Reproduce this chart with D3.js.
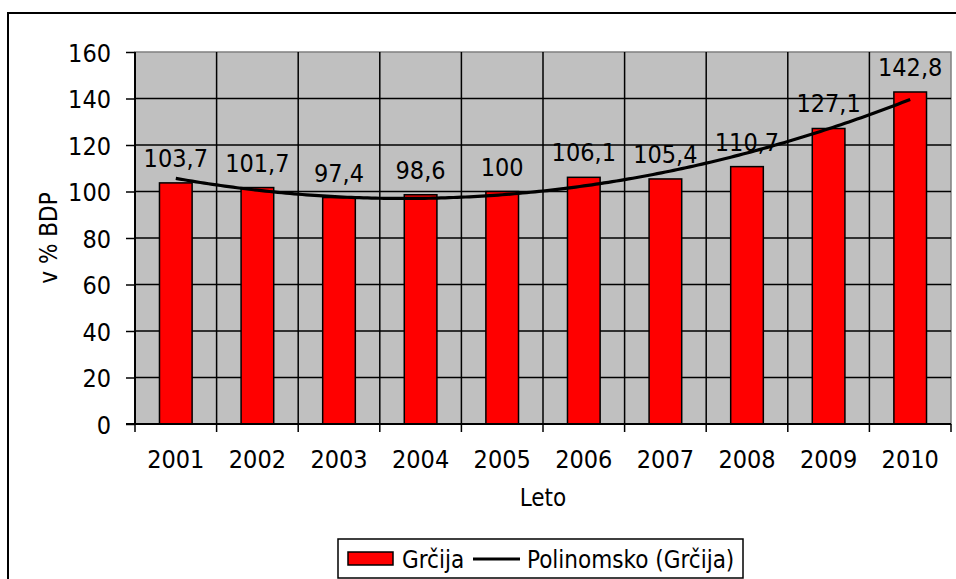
<!DOCTYPE html>
<html>
<head>
<meta charset="utf-8">
<script src="https://cdn.jsdelivr.net/npm/d3@7"></script>
<style>
  html, body { margin: 0; padding: 0; background: #fff; }
  svg { display: block; }
  text { font-family: "DejaVu Sans", Verdana, sans-serif; font-stretch: condensed; fill: #000; }
</style>
</head>
<body>
<svg id="chart" width="956" height="579"></svg>
<script>
// Javni dolg Grčije (v % BDP), 2001–2010
const years = ["2001", "2002", "2003", "2004", "2005", "2006", "2007", "2008", "2009", "2010"];
const debt = [103.7, 101.7, 97.4, 98.6, 100, 106.1, 105.4, 110.7, 127.1, 142.8];
const yTicks = [0, 20, 40, 60, 80, 100, 120, 140, 160];
const seriesName = "Grčija";
const trendName = "Polinomsko (Grčija)";
const xTitle = "Leto";
const yTitle = "v % BDP";

const FS_NUM = 25;   // numbers: ticks and value labels
const FS_TXT = 24;   // titles and legend
const svg = d3.select("#chart");
const plot = { left: 135, top: 52, right: 951, bottom: 424 };

const x = d3.scaleBand().domain(years).range([plot.left, plot.right]).paddingInner(0).paddingOuter(0);
const y = d3.scaleLinear().domain([0, 160]).range([plot.bottom, plot.top]);
const barW = x.bandwidth() * 0.4;

// Chart frame
svg.append("rect")
  .attr("x", 8).attr("y", 13).attr("width", 970).attr("height", 590)
  .attr("fill", "#fff").attr("stroke", "#000").attr("stroke-width", 2);

// Plot background
svg.append("rect")
  .attr("x", plot.left).attr("y", plot.top)
  .attr("width", plot.right - plot.left).attr("height", plot.bottom - plot.top)
  .attr("fill", "#c0c0c0").attr("stroke", "#808080").attr("stroke-width", 1.5);

// Horizontal gridlines
svg.append("g").selectAll("line")
  .data(yTicks.filter(d => d > 0 && d < 160))
  .join("line")
  .attr("x1", plot.left).attr("x2", plot.right)
  .attr("y1", d => y(d)).attr("y2", d => y(d))
  .attr("stroke", "#000").attr("stroke-width", 1.5);

// Vertical gridlines between categories
svg.append("g").selectAll("line")
  .data(years.slice(1))
  .join("line")
  .attr("x1", d => x(d)).attr("x2", d => x(d))
  .attr("y1", plot.top).attr("y2", plot.bottom)
  .attr("stroke", "#000").attr("stroke-width", 1.5);

// Bars
svg.append("g").selectAll("rect")
  .data(years.map((yr, i) => ({ yr, v: debt[i] })))
  .join("rect")
  .attr("x", d => x(d.yr) + (x.bandwidth() - barW) / 2)
  .attr("y", d => y(d.v))
  .attr("width", barW)
  .attr("height", d => y(0) - y(d.v))
  .attr("fill", "#ff0000").attr("stroke", "#000").attr("stroke-width", 1.5);

// Value labels
svg.append("g").selectAll("text")
  .data(years.map((yr, i) => ({ yr, v: debt[i] })))
  .join("text")
  .attr("x", d => x(d.yr) + x.bandwidth() / 2)
  .attr("y", d => y(d.v) - 16)
  .attr("text-anchor", "middle")
  .attr("font-size", FS_NUM)
  .text(d => String(d.v).replace(".", ","));

// Second-order polynomial trend (least squares on the yearly values)
function polyFit(xs, ys, order) {
  const n = order + 1;
  const A = Array.from({ length: n }, () => new Array(n + 1).fill(0));
  for (let r = 0; r < n; r++) {
    for (let c = 0; c < n; c++) A[r][c] = d3.sum(xs, v => Math.pow(v, r + c));
    A[r][n] = d3.sum(xs, (v, i) => Math.pow(v, r) * ys[i]);
  }
  for (let i = 0; i < n; i++) {
    let p = i;
    for (let k = i + 1; k < n; k++) if (Math.abs(A[k][i]) > Math.abs(A[p][i])) p = k;
    [A[i], A[p]] = [A[p], A[i]];
    for (let k = i + 1; k < n; k++) {
      const f = A[k][i] / A[i][i];
      for (let c = i; c <= n; c++) A[k][c] -= f * A[i][c];
    }
  }
  const coef = new Array(n).fill(0);
  for (let i = n - 1; i >= 0; i--) {
    let s = A[i][n];
    for (let c = i + 1; c < n; c++) s -= A[i][c] * coef[c];
    coef[i] = s / A[i][i];
  }
  return t => coef.reduce((acc, k, i) => acc + k * Math.pow(t, i), 0);
}
const idx = years.map((_, i) => i + 1);
const trend = polyFit(idx, debt, 2);
const steps = d3.range(1, 10.001, 0.05);
const xPos = t => x(years[0]) + x.bandwidth() / 2 + (t - 1) * x.step();
svg.append("path")
  .datum(steps)
  .attr("d", d3.line().x(t => xPos(t)).y(t => y(trend(t))))
  .attr("fill", "none").attr("stroke", "#000").attr("stroke-width", 3.2)
  .attr("stroke-linejoin", "round");

// Y axis
const yAxis = svg.append("g")
  .attr("transform", `translate(${plot.left},0)`)
  .call(d3.axisLeft(y).tickValues(yTicks).tickSize(9).tickPadding(15).tickFormat(d3.format("d")));
yAxis.select(".domain").attr("stroke", "#000").attr("stroke-width", 2).attr("d", `M0,${plot.top}V${plot.bottom}`);
yAxis.selectAll(".tick line").attr("stroke", "#000").attr("stroke-width", 1.5);
yAxis.selectAll(".tick text")
  .attr("font-size", FS_NUM).attr("font-family", null).attr("fill", "#000")
  .attr("dy", null).attr("y", 9);
yAxis.attr("font-family", null).attr("font-size", null);

// X axis with ticks on category boundaries
const xAxis = svg.append("g").attr("transform", `translate(0,${plot.bottom})`);
xAxis.append("line")
  .attr("x1", plot.left - 9).attr("x2", plot.right)
  .attr("y1", 0).attr("y2", 0)
  .attr("stroke", "#000").attr("stroke-width", 2);
xAxis.selectAll("line.tick")
  .data(years.concat(["end"]))
  .join("line").attr("class", "tick")
  .attr("x1", d => d === "end" ? plot.right : x(d))
  .attr("x2", d => d === "end" ? plot.right : x(d))
  .attr("y1", 0).attr("y2", 8)
  .attr("stroke", "#000").attr("stroke-width", 1.5);
xAxis.selectAll("text")
  .data(years)
  .join("text")
  .attr("x", d => x(d) + x.bandwidth() / 2)
  .attr("y", 44)
  .attr("text-anchor", "middle")
  .attr("font-size", FS_NUM)
  .text(d => d);

// Axis titles
svg.append("text")
  .attr("x", (plot.left + plot.right) / 2).attr("y", 506)
  .attr("text-anchor", "middle").attr("font-size", FS_TXT)
  .text(xTitle);
svg.append("text")
  .attr("transform", `translate(57,${(plot.top + plot.bottom) / 2}) rotate(-90)`)
  .attr("text-anchor", "middle").attr("font-size", FS_TXT)
  .text(yTitle);

// Legend
const lg = svg.append("g");
lg.append("rect")
  .attr("x", 338).attr("y", 539).attr("width", 405).attr("height", 39)
  .attr("fill", "#fff").attr("stroke", "#000").attr("stroke-width", 1.5);
lg.append("rect")
  .attr("x", 348).attr("y", 552).attr("width", 45).attr("height", 13)
  .attr("fill", "#ff0000").attr("stroke", "#000").attr("stroke-width", 1.5);
lg.append("text").attr("x", 402).attr("y", 568).attr("font-size", FS_TXT).text(seriesName);
lg.append("line")
  .attr("x1", 473).attr("x2", 520).attr("y1", 559).attr("y2", 559)
  .attr("stroke", "#000").attr("stroke-width", 3);
lg.append("text").attr("x", 527).attr("y", 568).attr("font-size", FS_TXT).text(trendName);
</script>
</body>
</html>
